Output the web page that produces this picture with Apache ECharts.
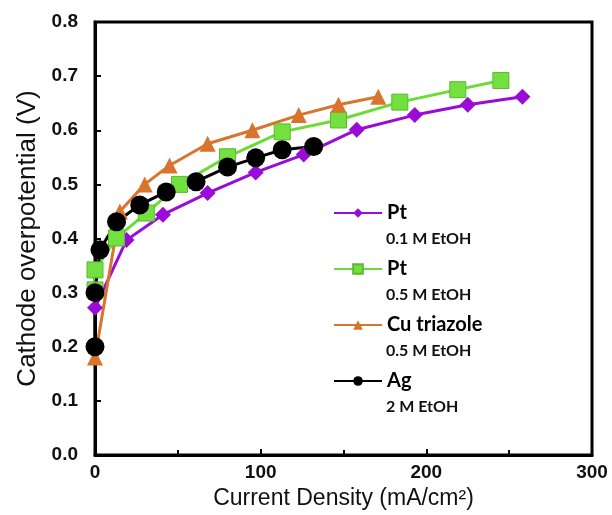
<!DOCTYPE html>
<html>
<head>
<meta charset="utf-8">
<script src="https://cdn.jsdelivr.net/npm/echarts@6/dist/echarts.min.js"></script>
<style>
  html, body { margin: 0; padding: 0; background: #fff; }
  #chart { width: 612px; height: 515px; }
</style>
</head>
<body>
<div id="chart"></div>
<script>
// data
var ptLowX = [0, 19, 41, 68, 97, 126, 158, 193, 225, 258];
var ptLowY = [0.272, 0.397, 0.444, 0.484, 0.522, 0.555, 0.601, 0.628, 0.647, 0.662];

var ptHighX = [0, 0, 13, 31, 51, 80, 113, 147, 184, 219, 245];
var ptHighY = [0.305, 0.342, 0.401, 0.447, 0.50, 0.551, 0.597, 0.619, 0.652, 0.675, 0.692];

var cuX = [0, 15, 30, 45, 68, 95, 123, 147, 171];
var cuY = [0.18, 0.45, 0.50, 0.535, 0.575, 0.60, 0.628, 0.647, 0.662];

var agX = [0, 0, 3, 13, 27, 43, 61, 80, 97, 113, 132];
var agY = [0.20, 0.30, 0.379, 0.431, 0.462, 0.486, 0.505, 0.532, 0.549, 0.564, 0.57];

var seriesNames = ['Pt 0.1', 'Pt 0.5', 'Cu triazole', 'Ag'];
var legendMain = ['Pt', 'Pt', 'Cu triazole', 'Ag'];
var legendSub = ['0.1 M EtOH', '0.5 M EtOH', '0.5 M EtOH', '2 M EtOH'];

function pairs(xs, ys) {
    return xs.map(function (x, i) { return [x, ys[i]]; });
}

var chart = echarts.init(document.getElementById('chart'));

// second line of each legend entry
var subTexts = legendSub.map(function (t, i) {
    return {
        type: 'text',
        left: 386,
        top: 231 + i * 56,
        style: { text: t, fontFamily: 'Lato', fontWeight: 'bold', fontSize: 16, fill: '#111' }
    };
});

var option = {
    animation: false,
    backgroundColor: '#fff',
    grid: {
        left: 95, right: 20, top: 22, bottom: 60,
        outerBoundsMode: 'none',
        show: true, borderColor: '#000', borderWidth: 3
    },
    legend: {
        orient: 'vertical',
        left: 333,
        top: 202,
        padding: 0,
        itemWidth: 48,
        itemHeight: 12,
        itemGap: 34,
        data: seriesNames,
        formatter: function (name) {
            return legendMain[seriesNames.indexOf(name)];
        },
        textStyle: { fontFamily: 'Lato', fontWeight: 'bold', fontSize: 20, color: '#000', lineHeight: 22 }
    },
    xAxis: {
        type: 'value',
        min: 0, max: 300, interval: 100,
        name: 'Current Density (mA/cm²)',
        nameLocation: 'middle',
        nameGap: 30,
        nameTextStyle: { fontFamily: 'Liberation Sans', fontSize: 23, color: '#111' },
        axisLine: { show: true, lineStyle: { color: '#000', width: 3 } },
        axisTick: { inside: true, length: 6, lineStyle: { color: '#000', width: 2 } },
        minorTick: { show: true, splitNumber: 2, length: 5, lineStyle: { color: '#000', width: 2 } },
        axisLabel: { fontFamily: 'Liberation Sans', fontWeight: 'bold', fontSize: 19, color: '#111', margin: 8 },
        splitLine: { show: false }
    },
    yAxis: {
        type: 'value',
        min: 0, max: 0.8, interval: 0.1,
        name: 'Cathode overpotential (V)',
        nameLocation: 'middle',
        nameGap: 53,
        nameTextStyle: { fontFamily: 'Liberation Sans', fontSize: 26, color: '#111' },
        axisLine: { show: true, lineStyle: { color: '#000', width: 3 } },
        axisTick: { inside: true, length: 6, lineStyle: { color: '#000', width: 2 } },
        minorTick: { show: false },
        axisLabel: {
            fontFamily: 'Liberation Sans', fontWeight: 'bold', fontSize: 19, color: '#111', margin: 17,
            formatter: function (v) { return v.toFixed(1); }
        },
        splitLine: { show: false }
    },
    graphic: subTexts,
    series: [
        {
            name: seriesNames[0], type: 'line', data: pairs(ptLowX, ptLowY),
            symbol: 'diamond', symbolSize: 16,
            lineStyle: { color: '#9A0BD8', width: 3 },
            itemStyle: { color: '#9A0BD8' }
        },
        {
            name: seriesNames[1], type: 'line', data: pairs(ptHighX, ptHighY),
            symbol: 'rect', symbolSize: 16,
            lineStyle: { color: '#6BDB36', width: 3 },
            itemStyle: { color: '#72E03E', borderColor: '#5CB82E', borderWidth: 1 }
        },
        {
            name: seriesNames[2], type: 'line', data: pairs(cuX, cuY),
            symbol: 'triangle', symbolSize: 16,
            lineStyle: { color: '#D8742C', width: 3 },
            itemStyle: { color: '#D8742C' }
        },
        {
            name: seriesNames[3], type: 'line', data: pairs(agX, agY),
            symbol: 'circle', symbolSize: 19,
            lineStyle: { color: '#000', width: 3 },
            itemStyle: { color: '#000' }
        }
    ]
};

chart.setOption(option);
</script>
</body>
</html>
